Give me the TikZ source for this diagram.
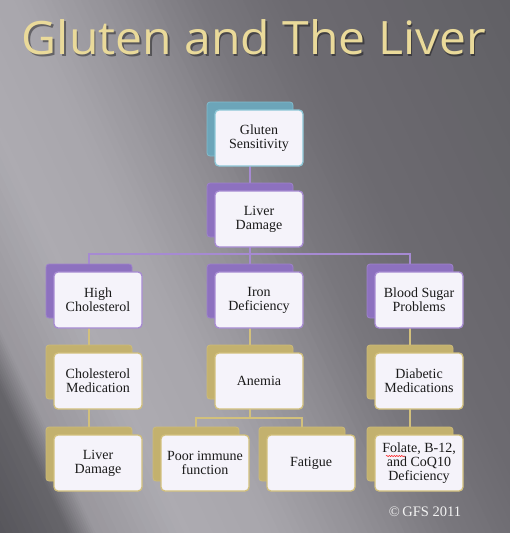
\documentclass[tikz,border=0pt]{standalone}
\usepackage{fontspec}
\setmainfont{Liberation Serif}
\newfontfamily\titlefont{Open Sans}
\usetikzlibrary{decorations.pathmorphing}
\definecolor{bgA}{HTML}{535258}
\definecolor{bgB}{HTML}{66656A}
\definecolor{bgC}{HTML}{99979D}
\definecolor{bgD}{HTML}{ADABB1}
\definecolor{bgE}{HTML}{A8A6AC}
\definecolor{bgF}{HTML}{939197}
\definecolor{bgG}{HTML}{7A787E}
\definecolor{bgH}{HTML}{6C6A70}
\definecolor{bgI}{HTML}{616065}
\definecolor{titlegold}{HTML}{EADA9A}
\definecolor{tealback}{HTML}{6CA5B9}
\definecolor{tealline}{HTML}{8CC6D6}
\definecolor{purpback}{HTML}{8D71BF}
\definecolor{purpline}{HTML}{A68AD2}
\definecolor{goldback}{HTML}{C3B16E}
\definecolor{goldline}{HTML}{D2C07C}
\definecolor{frontfill}{HTML}{F5F3FA}
\definecolor{textdark}{HTML}{1A1A1A}
\pgfdeclarelayer{bg}
\pgfsetlayers{bg,main}
\tikzset{
  backbox/.style={minimum width=86pt, minimum height=54pt, rounded corners=3pt, inner sep=0pt, outer sep=0pt},
  frontbox/.style={minimum width=88pt, minimum height=56pt, rounded corners=4pt, inner sep=1pt, outer sep=0pt,
    fill=frontfill, line width=1.3pt, align=center, text=textdark, font=\fontsize{14}{14}\selectfont},
  pline/.style={draw=purpline, line width=2pt},
  gline/.style={draw=goldline, line width=2pt},
  titletext/.style={anchor=base, font=\titlefont\fontsize{46}{46}\selectfont},
}
\newcommand\gbox[6]{%
  \node[backbox, fill=#4, draw=#5!70!#4, line width=0.8pt] (#1b) at (#2+43,#3+27) {};
  \node[frontbox, draw=#5] (#1) at (#2+52,#3+36) {#6};
}
\begin{document}
\begin{tikzpicture}[x=1pt,y=-1pt]
\useasboundingbox (0,0) rectangle (510,533);
\begin{pgfonlayer}{bg}
\begin{scope}
\clip (0,0) rectangle (510,533);
\foreach \pa/\pb/\ca/\cb in {-240/-165/bgA/bgB, -165/-140/bgB/bgC, -140/-60/bgC/bgD, -60/20/bgD/bgE, 20/100/bgE/bgF, 100/180/bgF/bgG, 180/260/bgG/bgH, 260/470/bgH/bgI}{
  \foreach \k in {0,...,11}{
    \pgfmathsetmacro\pz{\pa+(\pb-\pa)*\k/12}
    \pgfmathsetmacro\pw{\pa+(\pb-\pa)*(\k+1)/12+0.8}
    \pgfmathsetmacro\xz{\pz*0.905}
    \pgfmathsetmacro\yz{\pz*(-0.425)}
    \pgfmathsetmacro\xw{\pw*0.905}
    \pgfmathsetmacro\yw{\pw*(-0.425)}
    \pgfmathsetmacro\mx{100*(\k+0.5)/12}
    \fill[color=\cb!\mx!\ca] ({\xz-340},{\yz-724}) -- ({\xw-340},{\yw-724}) -- ({\xw+340},{\yw+724}) -- ({\xz+340},{\yz+724}) -- cycle;
  }
}
\end{scope}
\end{pgfonlayer}
% title
\node[titletext, text=black, opacity=0.4] (titleshadow) at (255.5,56.5) {\scalebox{1.045}[1]{Gluten and The Liver}};
\node[titletext, text=titlegold] (title) at (254,54) {\scalebox{1.045}[1]{Gluten and The Liver}};
% boxes
\gbox{gs}{207}{102}{tealback}{tealline}{Gluten\\Sensitivity}
\gbox{ld}{207}{183}{purpback}{purpline}{Liver\\Damage}
\gbox{hc}{46}{264}{purpback}{purpline}{High\\Cholesterol}
\gbox{id}{207}{264}{purpback}{purpline}{Iron\\Deficiency}
\gbox{bs}{367}{264}{purpback}{purpline}{Blood Sugar\\Problems}
\gbox{cm}{46}{345}{goldback}{goldline}{Cholesterol\\Medication}
\gbox{an}{207}{345}{goldback}{goldline}{Anemia}
\gbox{dm}{367}{345}{goldback}{goldline}{Diabetic\\Medications}
\gbox{ldd}{46}{427}{goldback}{goldline}{Liver\\Damage}
\gbox{pi}{153}{427}{goldback}{goldline}{Poor immune\\function}
\gbox{fa}{259}{427}{goldback}{goldline}{Fatigue}
\gbox{fo}{367}{427}{goldback}{goldline}{Folate, B-12,\\and CoQ10\\Deficiency}
\draw[red, line width=0.5pt, decorate, decoration={snake, amplitude=0.6pt, segment length=2.5pt}] (386,456) -- (405,456);
% connectors
\begin{pgfonlayer}{bg}
\draw[pline] (gsb.south) -- (ldb.north);
\draw[pline] (ldb.south) -- (idb.north);
\draw[pline] (ldb.south) -- ++(0,17) -| (hcb.north);
\draw[pline] (ldb.south) ++(0,17) -| (bsb.north);
\draw[gline] (hcb.south) -- (cmb.north);
\draw[gline] (cmb.south) -- (lddb.north);
\draw[gline] (idb.south) -- (anb.north);
\draw[gline] (anb.south) -- ++(0,19) -| (pib.north);
\draw[gline] (anb.south) ++(0,19) -| (fab.north);
\draw[gline] (bsb.south) -- (dmb.north);
\draw[gline] (dmb.south) -- (fob.north);
\end{pgfonlayer}
% copyright
\node[anchor=base, text=white!90!gray, font=\fontsize{14.5}{15}\selectfont] (copy) at (425,516) {©\,GFS 2011};
\end{tikzpicture}
\end{document}
